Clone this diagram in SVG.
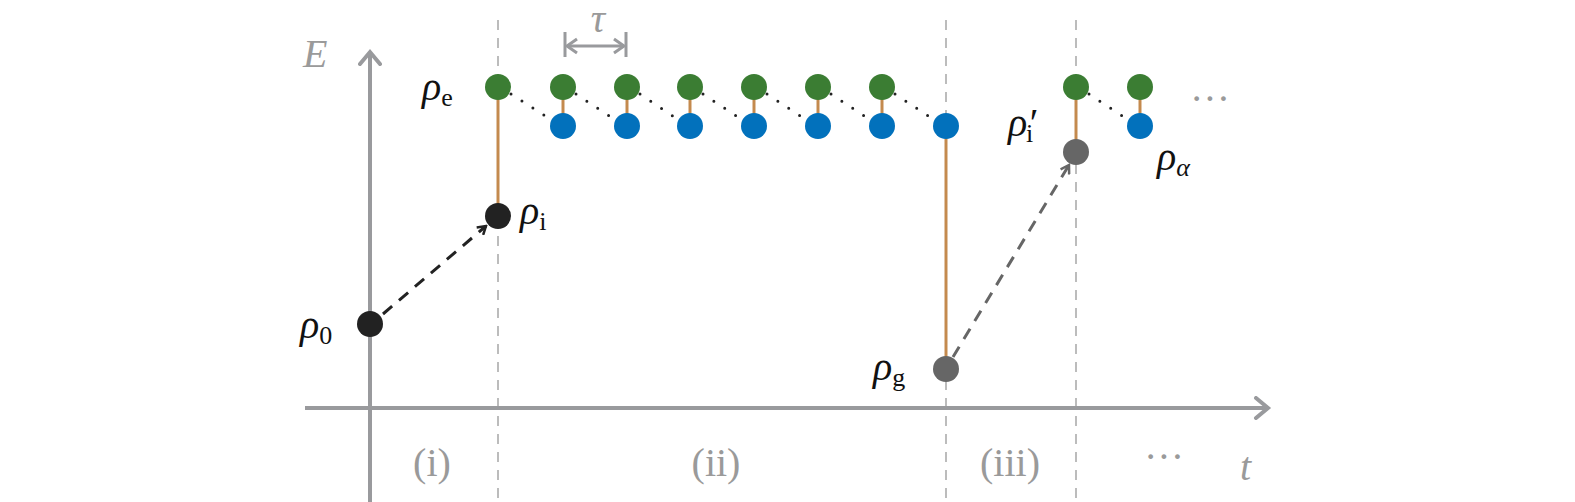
<svg xmlns="http://www.w3.org/2000/svg" width="1575" height="502" viewBox="0 0 1575 502">
<style>
.ax{stroke:#999a9d;stroke-width:4;fill:none}
.vd{stroke:#a6a6a6;stroke-width:1.5;stroke-dasharray:10,8}
.rod{stroke:#c48a4e;stroke-width:3}
.dot{stroke:#222;stroke-width:3;stroke-dasharray:0,13;stroke-linecap:round}
.g{fill:#3b7d33}.b{fill:#0271bc}
.lab{font-family:"Liberation Serif",serif;font-style:italic;font-size:40px;fill:#111}
.sub{font-family:"Liberation Serif",serif;font-size:26px;fill:#111}
.gl{font-family:"Liberation Serif",serif;font-size:40px;fill:#9a9a9a}
</style>
<defs>
<marker id="ah" viewBox="0 0 12 12" refX="10" refY="6" markerWidth="12" markerHeight="12" markerUnits="userSpaceOnUse" orient="auto"><path d="M2,1 L10,6 L2,11" fill="none" stroke="context-stroke" stroke-width="2.5"/></marker>
<marker id="axh" viewBox="0 0 20 24" refX="16" refY="12" markerWidth="20" markerHeight="24" markerUnits="userSpaceOnUse" orient="auto"><path d="M4,2 L16,12 L4,22" fill="none" stroke="#999a9d" stroke-width="4" stroke-linecap="round"/></marker>
</defs>
<g id="axes">
<line class="vd" x1="498" y1="20" x2="498" y2="665"/>
<line class="vd" x1="946" y1="20" x2="946" y2="665"/>
<line class="vd" x1="1076" y1="20" x2="1076" y2="665"/>
<line class="ax" x1="370" y1="665" x2="370" y2="52" marker-end="url(#axh)"/>
<line class="ax" x1="305" y1="408" x2="1268" y2="408" marker-end="url(#axh)"/>
<text class="gl" x="303" y="67" font-style="italic">E</text>
<text class="gl" x="1240" y="480" font-style="italic">t</text>
<text class="gl" x="432" y="476" text-anchor="middle">(i)</text>
<text class="gl" x="716" y="476" text-anchor="middle">(ii)</text>
<text class="gl" x="1010" y="476" text-anchor="middle">(iii)</text>
<text class="gl" x="1164" y="470" text-anchor="middle">···</text>
<text class="gl" x="1210" y="112" text-anchor="middle">···</text>
<line stroke="#999a9d" stroke-width="3" x1="565" y1="32" x2="565" y2="57"/>
<line stroke="#999a9d" stroke-width="3" x1="626" y1="32" x2="626" y2="57"/>
<line stroke="#999a9d" stroke-width="3" x1="567" y1="46" x2="624" y2="46"/>
<path d="M577,39 L567,46 L577,53 M614,39 L624,46 L614,53" fill="none" stroke="#999a9d" stroke-width="3"/>
<text class="gl" x="598" y="32" text-anchor="middle" font-style="italic" font-size="36">τ</text>
</g>
<g id="connectors">
<line class="rod" x1="498" y1="87" x2="498" y2="216"/>
<line class="rod" x1="946" y1="126" x2="946" y2="369"/>
<line class="rod" x1="1076" y1="87" x2="1076" y2="152"/>
<line class="rod" x1="563" y1="87" x2="563" y2="126"/>
<line class="rod" x1="627" y1="87" x2="627" y2="126"/>
<line class="rod" x1="690" y1="87" x2="690" y2="126"/>
<line class="rod" x1="754" y1="87" x2="754" y2="126"/>
<line class="rod" x1="818" y1="87" x2="818" y2="126"/>
<line class="rod" x1="882" y1="87" x2="882" y2="126"/>
<line class="rod" x1="1140" y1="87" x2="1140" y2="126"/>
<line class="dot" x1="511" y1="94" x2="550" y2="119"/>
<line class="dot" x1="576" y1="94" x2="614" y2="119"/>
<line class="dot" x1="640" y1="94" x2="677" y2="119"/>
<line class="dot" x1="703" y1="94" x2="741" y2="119"/>
<line class="dot" x1="767" y1="94" x2="805" y2="119"/>
<line class="dot" x1="831" y1="94" x2="869" y2="119"/>
<line class="dot" x1="895" y1="94" x2="933" y2="119"/>
<line class="dot" x1="1089" y1="94" x2="1127" y2="119"/>
<line x1="383" y1="314" x2="486" y2="226" stroke="#222" stroke-width="3" stroke-dasharray="12,9" marker-end="url(#ah)"/>
<line x1="953" y1="357" x2="1069" y2="165" stroke="#666" stroke-width="3" stroke-dasharray="12,9" marker-end="url(#ah)"/>
</g>
<g id="nodes">
<g id="excited">
<circle class="g" cx="498" cy="87" r="13"/><circle class="g" cx="563" cy="87" r="13"/><circle class="g" cx="627" cy="87" r="13"/><circle class="g" cx="690" cy="87" r="13"/><circle class="g" cx="754" cy="87" r="13"/><circle class="g" cx="818" cy="87" r="13"/><circle class="g" cx="882" cy="87" r="13"/><circle class="g" cx="1076" cy="87" r="13"/><circle class="g" cx="1140" cy="87" r="13"/>
</g>
<g id="blue">
<circle class="b" cx="563" cy="126" r="13"/><circle class="b" cx="627" cy="126" r="13"/><circle class="b" cx="690" cy="126" r="13"/><circle class="b" cx="754" cy="126" r="13"/><circle class="b" cx="818" cy="126" r="13"/><circle class="b" cx="882" cy="126" r="13"/><circle class="b" cx="946" cy="126" r="13"/><circle class="b" cx="1140" cy="126" r="13"/>
</g>
<g id="rho0"><circle cx="370" cy="324" r="13" fill="#222"/><text class="lab" x="300" y="338">ρ<tspan class="sub" font-style="normal" font-size="30" dy="6">0</tspan></text></g>
<g id="rhoi"><circle cx="498" cy="216" r="13" fill="#222"/><text class="lab" x="520" y="224">ρ<tspan class="sub" font-style="normal" dy="6">i</tspan></text></g>
<g id="rhoe"><text class="lab" x="422" y="100">ρ<tspan class="sub" font-style="normal" dy="6">e</tspan></text></g>
<g id="rhog"><circle cx="946" cy="369" r="13" fill="#666"/><text class="lab" x="873" y="380">ρ<tspan class="sub" font-style="normal" dy="6">g</tspan></text></g>
<g id="rhoip"><circle cx="1076" cy="152" r="13" fill="#666"/><text class="lab" x="1008" y="136">ρ′<tspan class="sub" font-style="normal" dx="-10" dy="6">i</tspan></text></g>
<g id="rhoa"><text class="lab" x="1157" y="170">ρ<tspan class="sub" dy="6">α</tspan></text></g>
</g>
</svg>
